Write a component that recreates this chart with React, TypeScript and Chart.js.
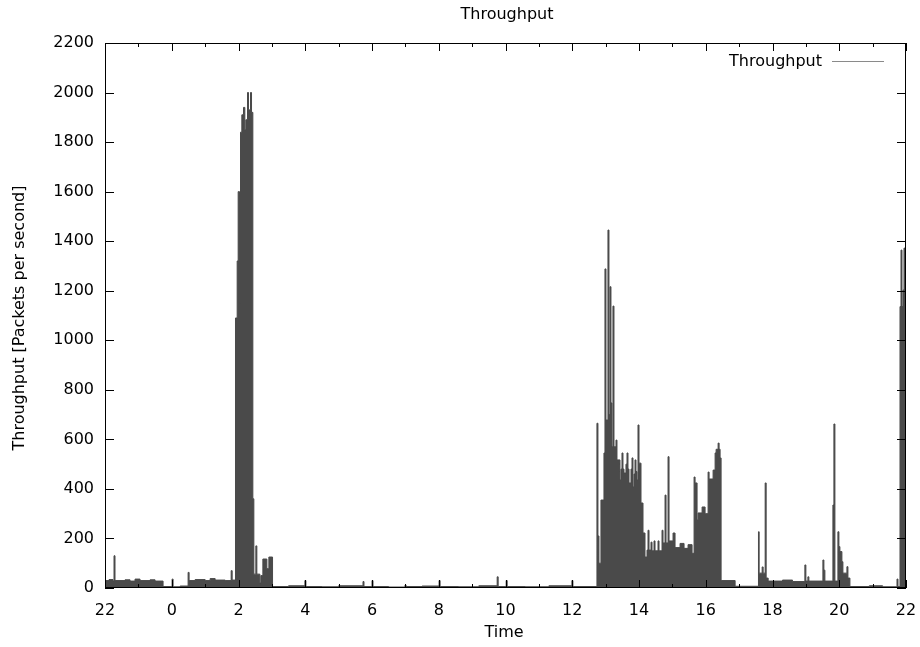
import React, { useEffect, useRef } from "react";
import { Chart, registerables } from "chart.js";

Chart.register(...registerables);

// Hours elapsed since 22:00 of the first day; value holds until the next time.
const nightTimes = [0, 0.12, 0.24, 0.27, 0.30, 0.60, 0.75, 0.90, 1.05, 1.35, 1.50, 1.74, 2.01, 2.04, 2.25, 2.49, 2.52, 2.70, 3.00, 3.15, 3.30, 3.60, 3.78, 3.81];
const nightValues = [30, 34, 28, 130, 30, 33, 28, 36, 30, 33, 28, 6, 36, 5, 8, 63, 30, 34, 30, 38, 32, 30, 70, 32];

const burstTimes = [3.91, 3.96, 3.99, 4.03, 4.06, 4.10, 4.15, 4.19, 4.22, 4.27, 4.30, 4.36, 4.39, 4.43, 4.46, 4.52, 4.55, 4.64, 4.67, 4.73, 4.85, 4.91];
const burstValues = [1090, 1320, 1600, 1150, 1840, 1910, 1940, 1850, 1890, 2000, 1930, 2000, 1920, 360, 56, 170, 56, 20, 50, 117, 78, 125];

const idleTimes = [5.02, 5.50, 5.99, 6.02, 6.50, 7.00, 7.73, 7.76, 8.00, 8.03, 8.50, 8.99, 9.02, 9.50, 10.01, 10.04, 10.60, 11.20, 11.75, 11.78, 12.02, 12.05, 12.60, 13.30, 13.99, 14.02];
const idleValues = [6, 9, 30, 6, 5, 9, 26, 6, 30, 6, 4, 12, 6, 8, 30, 6, 5, 9, 45, 6, 30, 6, 5, 9, 30, 6];

const afternoonTimes = [14.74, 14.77, 14.80, 14.86, 14.95, 14.98, 15.01, 15.07, 15.10, 15.13, 15.16, 15.19, 15.22, 15.25, 15.31, 15.34, 15.43, 15.46, 15.49, 15.52, 15.55, 15.61, 15.64, 15.67, 15.70, 15.76, 15.79, 15.82, 15.85, 15.88, 15.91, 15.94, 15.97, 16.00, 16.06, 16.12, 16.18, 16.24, 16.27, 16.30, 16.36, 16.39, 16.45, 16.48, 16.57, 16.60, 16.69, 16.72, 16.78, 16.81, 16.87, 16.90, 17.02, 17.08, 17.23, 17.35, 17.47, 17.59, 17.65, 17.68, 17.74, 17.77, 17.89, 17.98, 18.07, 18.10, 18.22, 18.28, 18.31, 18.37, 18.40, 18.43, 18.46, 18.88];
const afternoonValues = [665, 210, 100, 355, 545, 1288, 678, 1445, 700, 1216, 747, 570, 1138, 570, 597, 517, 436, 480, 545, 480, 464, 500, 545, 480, 424, 480, 525, 408, 460, 517, 470, 436, 658, 504, 343, 222, 125, 153, 233, 153, 185, 150, 190, 150, 190, 150, 233, 182, 375, 182, 530, 190, 222, 163, 180, 160, 175, 140, 448, 424, 275, 303, 327, 300, 468, 440, 476, 545, 560, 585, 560, 525, 30, 7];

const eveningTimes = [19.58, 19.60, 19.69, 19.72, 19.78, 19.81, 19.87, 20.30, 20.60, 20.97, 21.00, 21.06, 21.09, 21.51, 21.54, 21.57, 21.81, 21.84, 21.87, 21.96, 21.99, 22.02, 22.08, 22.11, 22.23, 22.26, 22.32, 22.90, 23.30, 23.73, 23.76, 23.82, 23.85, 23.88, 23.91, 23.94, 23.97, 24.00];
const eveningValues = [227, 60, 85, 60, 424, 40, 28, 32, 26, 93, 28, 45, 28, 113, 72, 28, 335, 662, 28, 227, 167, 147, 106, 60, 86, 40, 6, 9, 5, 36, 6, 1136, 1364, 1136, 1203, 1372, 1203, 1203];

const xTickLabels = ["22", "0", "2", "4", "6", "8", "10", "12", "14", "16", "18", "20", "22"];
const yTickLabels = ["0", "200", "400", "600", "800", "1000", "1200", "1400", "1600", "1800", "2000", "2200"];

const FONT = "'DejaVu Sans', sans-serif";

const decorPlugin = {
  id: "gnuplotDecor",
  afterDatasetsDraw(chart: any) {
    const { ctx, chartArea } = chart;
    const { left, right, top, bottom } = chartArea;
    const xs = chart.scales.x;
    const ys = chart.scales.y;
    ctx.save();
    ctx.strokeStyle = "#000";
    ctx.lineWidth = 1;
    ctx.beginPath();
    const xt = xs.ticks.map((t: any) => t.value);
    for (let i = 0; i < xt.length; i++) {
      const p = Math.round(xs.getPixelForValue(xt[i])) + 0.5;
      ctx.moveTo(p, bottom);
      ctx.lineTo(p, bottom - 8);
      ctx.moveTo(p, top);
      ctx.lineTo(p, top + 8);
      if (i < xt.length - 1) {
        const m = Math.round(xs.getPixelForValue((xt[i] + xt[i + 1]) / 2)) + 0.5;
        ctx.moveTo(m, bottom);
        ctx.lineTo(m, bottom - 4);
        ctx.moveTo(m, top);
        ctx.lineTo(m, top + 4);
      }
    }
    ys.ticks.forEach((t: any) => {
      const p = Math.round(ys.getPixelForValue(t.value)) + 0.5;
      ctx.moveTo(left, p);
      ctx.lineTo(left + 9, p);
      ctx.moveTo(right, p);
      ctx.lineTo(right - 9, p);
    });
    ctx.stroke();
    ctx.strokeRect(left + 0.5, top + 0.5, right - left - 1, bottom - top - 1);

    ctx.fillStyle = "#000";
    ctx.font = "16px " + FONT;
    ctx.textAlign = "center";
    ctx.textBaseline = "middle";
    ctx.fillText("Throughput", 507, 15);
    ctx.fillText("Time", 504, 633);
    ctx.save();
    ctx.translate(20, 318);
    ctx.rotate(-Math.PI / 2);
    ctx.fillText("Throughput [Packets per second]", 0, 0);
    ctx.restore();

    ctx.textAlign = "right";
    ctx.fillText("Throughput", 822, 62);
    ctx.strokeStyle = "#8a8a8a";
    ctx.beginPath();
    ctx.moveTo(832, 61.5);
    ctx.lineTo(884, 61.5);
    ctx.stroke();
    ctx.restore();
  },
};

export default function App() {
  const canvasRef = useRef<HTMLCanvasElement | null>(null);

  useEffect(() => {
    const times = [...nightTimes, ...burstTimes, ...idleTimes, ...afternoonTimes, ...eveningTimes];
    const values = [...nightValues, ...burstValues, ...idleValues, ...afternoonValues, ...eveningValues];
    const data = times.map((t, i) => ({ x: t, y: values[i] }));

    const chart = new Chart(canvasRef.current as HTMLCanvasElement, {
      type: "line",
      data: {
        datasets: [
          {
            label: "Throughput",
            data,
            stepped: true,
            fill: "origin",
            borderColor: "#4a4a4a",
            backgroundColor: "#4a4a4a",
            borderWidth: 1,
            pointRadius: 0,
            tension: 0,
          },
        ],
      },
      options: {
        animation: false,
        responsive: false,
        devicePixelRatio: 1,
        layout: { padding: { top: 43, right: 14, left: 0, bottom: 0 } },
        plugins: {
          legend: { display: false },
          title: { display: false },
          tooltip: { enabled: false },
        },
        scales: {
          x: {
            type: "linear",
            min: 0,
            max: 24,
            grid: { display: false, drawTicks: false },
            border: { display: false },
            afterFit: (s: any) => {
              s.height = 59;
              s.paddingLeft = 0;
              s.paddingRight = 0;
            },
            ticks: {
              stepSize: 2,
              autoSkip: false,
              maxRotation: 0,
              padding: 13,
              color: "#000",
              font: { family: FONT, size: 16 },
              callback: (_v: any, i: number) => xTickLabels[i],
            },
          },
          y: {
            min: 0,
            max: 2200,
            grid: { display: false, drawTicks: false },
            border: { display: false },
            afterFit: (s: any) => {
              s.width = 105;
              s.paddingTop = 0;
              s.paddingBottom = 0;
            },
            ticks: {
              stepSize: 200,
              padding: 11,
              color: "#000",
              font: { family: FONT, size: 16 },
              callback: (_v: any, i: number) => yTickLabels[i],
            },
          },
        },
      },
      plugins: [decorPlugin],
    });
    return () => chart.destroy();
  }, []);

  return (
    <div style={{ position: "fixed", left: 0, top: 0, width: 920, height: 647, background: "#fff" }}>
      <canvas ref={canvasRef} width={920} height={647} />
    </div>
  );
}
